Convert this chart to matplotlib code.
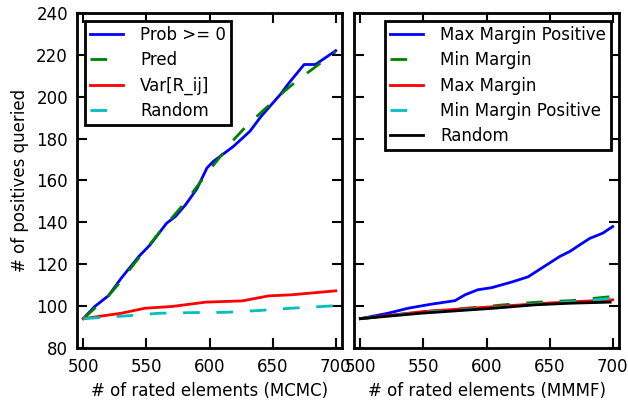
import matplotlib
matplotlib.use("Agg")
import matplotlib.pyplot as plt

# left panel (MCMC)
prob_x = [500, 509, 520, 530, 544, 553, 566, 573, 581, 590, 598, 603, 619, 632, 641, 656, 663, 675, 684, 700]
prob_y = [94, 99.8, 105, 113.3, 123.7, 129.3, 139.6, 142.8, 148.4, 156, 166, 169.1, 176.3, 183.5, 190.7, 201, 206.6, 215.4, 215.4, 222]
pred_x = [500, 510, 520, 530, 540, 550, 560, 570, 580, 590, 600, 610, 620, 630, 640, 650, 660, 670, 680, 690, 700]
pred_y = [94, 99.5, 105, 112, 120, 127.5, 135, 142, 149, 157, 165, 172.5, 180, 186.5, 192, 197.5, 203, 208, 212.5, 217, 221.5]
var_x = [500, 530, 549, 570, 597, 626, 647, 665, 700]
var_y = [94, 96.6, 99, 99.8, 101.9, 102.5, 104.9, 105.4, 107.3]
rand_x = [500, 533, 560, 586, 612, 639, 665, 700]
rand_y = [94, 95.3, 96.6, 96.9, 97, 97.9, 99, 100.2]

# right panel (MMMF)
mmp_x = [500, 522, 538, 556, 575, 583, 593, 604, 620, 633, 642, 658, 666, 674, 682, 692, 700]
mmp_y = [94, 96.6, 99, 100.9, 102.6, 105.4, 107.8, 108.8, 111.5, 114, 117.5, 123.7, 126.1, 129.3, 132.4, 134.8, 138]
minm_x = [500, 550, 600, 613, 641, 667, 693, 700]
minm_y = [94, 97.3, 99.8, 100.6, 101.9, 102.6, 104.2, 104.6]
maxm_x = [500, 550, 600, 650, 700]
maxm_y = [94, 97.4, 99.5, 101.5, 103]
minmp_x = [500, 550, 600, 612, 640, 667, 695, 700]
minmp_y = [94, 97, 99, 99.5, 101, 102, 103.5, 103.8]
rand2_x = [500, 548, 606, 638, 667, 698]
rand2_y = [94, 96.6, 99, 100.6, 101.4, 101.9]

xticks = [500, 550, 600, 650, 700]
yticks = [80, 100, 120, 140, 160, 180, 200, 220, 240]

plt.rcParams['font.size'] = 12
dash = (0, (6, 6))
lw = 2

fig = plt.figure(figsize=(6.28, 4.01), dpi=100)
ax1 = fig.add_axes([0.1226, 0.1322, 0.422, 0.8354])
ax2 = fig.add_axes([0.5637, 0.1322, 0.422, 0.8354], sharey=ax1)

ax1.plot(prob_x, prob_y, color='b', lw=lw, label='Prob >= 0')
ax1.plot(pred_x, pred_y, color='g', lw=lw, ls=dash, label='Pred')
ax1.plot(var_x, var_y, color='r', lw=lw, label='Var[R_ij]')
ax1.plot(rand_x, rand_y, color='c', lw=lw, ls=dash, label='Random')

ax2.plot(mmp_x, mmp_y, color='b', lw=lw, label='Max Margin Positive')
ax2.plot(minm_x, minm_y, color='g', lw=lw, ls=dash, label='Min Margin')
ax2.plot(maxm_x, maxm_y, color='r', lw=lw, label='Max Margin')
ax2.plot(minmp_x, minmp_y, color='c', lw=lw, ls=dash, label='Min Margin Positive')
ax2.plot(rand2_x, rand2_y, color='k', lw=lw, label='Random')

for ax in (ax1, ax2):
    ax.set_xlim(495, 705)
    ax.set_ylim(80, 240)
    ax.set_xticks(xticks)
    ax.set_yticks(yticks)
    ax.tick_params(direction='in', top=True, right=True, length=7, width=1.5)
    ax.tick_params(axis='x', pad=7.5)
    ax.tick_params(axis='y', pad=6.5)
    for s in ax.spines.values():
        s.set_linewidth(2)

ax2.tick_params(labelleft=False)

ax1.set_xlabel('# of rated elements (MCMC)', labelpad=4)
ax2.set_xlabel('# of rated elements (MMMF)', labelpad=4)
ax1.set_ylabel('# of positives queried', labelpad=5)

for ax, loc in ((ax1, 'upper left'), (ax2, 'upper right')):
    leg = ax.legend(loc=loc, fancybox=False, framealpha=1, handlelength=2.0,
                    handletextpad=1.0, labelspacing=0.44, borderpad=0.28)
    leg.get_frame().set_edgecolor('k')
    leg.get_frame().set_linewidth(2)

fig.savefig('out.png', dpi=100)
